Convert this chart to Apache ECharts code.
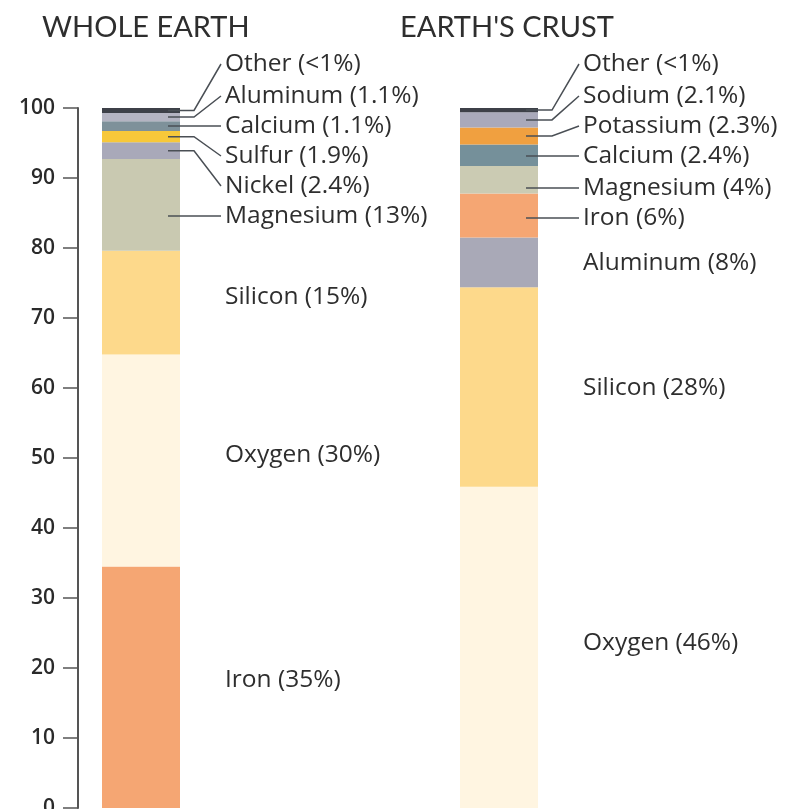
<!DOCTYPE html>
<html>
<head>
<meta charset="utf-8">
<script src="https://cdn.jsdelivr.net/npm/echarts@6/dist/echarts.min.js"></script>
<style>html,body{margin:0;padding:0;background:#fff;}#c{width:795px;height:809px;}</style>
</head>
<body>
<div id="c"></div>
<script>
// ---- data ----
const categories = ['Whole Earth', "Earth's Crust"];
const chartTitles = ['WHOLE EARTH', "EARTH'S CRUST"];
const wholeElements = ['Iron', 'Oxygen', 'Silicon', 'Magnesium', 'Nickel', 'Sulfur', 'Calcium', 'Aluminum', 'Other'];
const wholeValues = [34.5, 30.3, 14.8, 13.1, 2.4, 1.6, 1.4, 1.2, 0.7];
const wholeLabels = ['Iron (35%)', 'Oxygen (30%)', 'Silicon (15%)', 'Magnesium (13%)', 'Nickel (2.4%)', 'Sulfur (1.9%)', 'Calcium (1.1%)', 'Aluminum (1.1%)', 'Other (<1%)'];
const crustElements = ['Oxygen', 'Silicon', 'Aluminum', 'Iron', 'Magnesium', 'Calcium', 'Potassium', 'Sodium', 'Other'];
const crustValues = [45.9, 28.5, 7.1, 6.3, 3.9, 3.1, 2.4, 2.2, 0.6];
const crustLabels = ['Oxygen (46%)', 'Silicon (28%)', 'Aluminum (8%)', 'Iron (6%)', 'Magnesium (4%)', 'Calcium (2.4%)', 'Potassium (2.3%)', 'Sodium (2.1%)', 'Other (<1%)'];
const yMin = 0, yMax = 100, yStep = 10;

// ---- styles / layout ----
const wholeColors = ['#F5A673', '#FFF5E1', '#FDD98B', '#C9C9B1', '#A9A9B9', '#F7C83A', '#7E919A', '#B4B4C2', '#3D4048'];
const crustColors = ['#FFF5E1', '#FDD98B', '#A9A9B7', '#F5A673', '#CBCBB3', '#75909A', '#F0A040', '#A9A9BA', '#3D4048'];
const wholeLabelY = [680, 455, 297, 216, 186, 156, 126, 96, 64];
const crustLabelY = [643, 388, 263, 218, 188, 156, 126, 96, 64];
const wholeLeader = [0, 0, 0, 1, 1, 1, 1, 1, 1];
const crustLeader = [0, 0, 0, 1, 1, 1, 1, 1, 1];
const FONT = '"Open Sans", Lato, sans-serif';
const TITLE_FONT = 'Lato, "Open Sans", sans-serif';
const BAR_W = 78;
const LABEL_GAP = 45;

const chart = echarts.init(document.getElementById('c'));

const groups = [
  { names: wholeElements, values: wholeValues, labels: wholeLabels, colors: wholeColors, labelY: wholeLabelY, leader: wholeLeader },
  { names: crustElements, values: crustValues, labels: crustLabels, colors: crustColors, labelY: crustLabelY, leader: crustLeader }
];

const series = [];
groups.forEach((g, gi) => {
  g.names.forEach((name, i) => {
    series.push({
      name: categories[gi] + ' ' + name,
      type: 'bar',
      xAxisIndex: gi,
      yAxisIndex: gi,
      stack: 'stack' + gi,
      barWidth: BAR_W,
      data: [g.values[i]],
      itemStyle: { color: g.colors[i] },
      silent: true,
      label: {
        show: true,
        formatter: g.labels[i],
        fontFamily: FONT,
        fontSize: 24.5,
        color: '#2e2e2e'
      },
      labelLayout: function (p) {
        return {
          x: p.rect.x + p.rect.width + LABEL_GAP,
          y: g.labelY[i],
          align: 'left',
          verticalAlign: 'middle',
          hideOverlap: false
        };
      }
    });
  });
});

const yAxisBase = {
  type: 'value', min: yMin, max: yMax, interval: yStep,
  splitLine: { show: false }
};

chart.setOption({
  animation: false,
  backgroundColor: '#ffffff',
  title: [
    { text: chartTitles[0], left: 37, top: 8, textStyle: { fontFamily: TITLE_FONT, fontSize: 29, fontWeight: 'normal', color: '#2e2e2e' } },
    { text: chartTitles[1], left: 395, top: 8, textStyle: { fontFamily: TITLE_FONT, fontSize: 29, fontWeight: 'normal', color: '#2e2e2e' } }
  ],
  grid: [
    { left: 78, width: 126, top: 108, bottom: 1, outerBoundsMode: 'none', containLabel: false },
    { left: 440, width: 118, top: 108, bottom: 1, outerBoundsMode: 'none', containLabel: false }
  ],
  xAxis: [
    { type: 'category', gridIndex: 0, data: [categories[0]], show: false },
    { type: 'category', gridIndex: 1, data: [categories[1]], show: false }
  ],
  yAxis: [
    Object.assign({}, yAxisBase, {
      gridIndex: 0,
      axisLine: { show: true, lineStyle: { color: '#555555', width: 2 } },
      axisTick: { show: true, length: 15, lineStyle: { color: '#555555', width: 1.5 } },
      axisLabel: { fontFamily: FONT, fontSize: 21, fontWeight: 600, color: '#2a2a2a', margin: 23 }
    }),
    Object.assign({}, yAxisBase, { gridIndex: 1, show: false })
  ],
  series: series
});

// leader lines computed from the data through the axes
function drawLeaders() {
  const elements = [];
  groups.forEach((g, gi) => {
    let cum = 0;
    g.values.forEach((v, i) => {
      const lo = cum, hi = cum + v;
      cum = hi;
      if (!g.leader[i]) return;
      const pLo = chart.convertToPixel({ gridIndex: gi }, [categories[gi], lo]);
      const pHi = chart.convertToPixel({ gridIndex: gi }, [categories[gi], hi]);
      const midY = (pLo[1] + pHi[1]) / 2;
      const right = pLo[0] + BAR_W / 2;
      const ly = g.labelY[i];
      const top = Math.min(pLo[1], pHi[1]), bot = Math.max(pLo[1], pHi[1]);
      const sy = (ly > top + 3 && ly < bot - 3) ? ly : midY;
      const pts = [[right - 12, sy], [right + 14, sy], [right + LABEL_GAP - 4, ly]];
      elements.push({
        type: 'polyline',
        shape: { points: pts },
        style: { stroke: '#4a4f55', lineWidth: 1.5, fill: null },
        z: 100,
        silent: true
      });
    });
  });
  chart.setOption({ graphic: elements });
}
drawLeaders();
</script>
</body>
</html>
